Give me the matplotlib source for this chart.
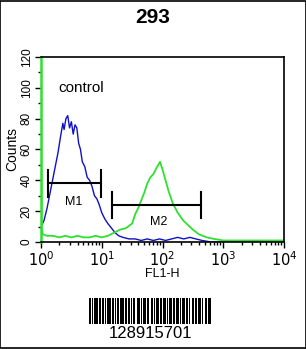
# Flow cytometry histogram, 293 cells, control vs antibody
import matplotlib
matplotlib.use("Agg")
import matplotlib.pyplot as plt
import numpy as np
from matplotlib.patches import Rectangle
from matplotlib.ticker import MultipleLocator, LogLocator, NullFormatter

plt.rcParams['font.family'] = ['Liberation Sans', 'DejaVu Sans']

title = "293"
x_label = "FL1-H"
y_label = "Counts"
legend_text = "control"

# log10 of FL1-H channel, counts (control, blue)
blue_exp = [0.0, 0.05, 0.1, 0.15, 0.2, 0.25, 0.28, 0.32, 0.36, 0.38, 0.41, 0.44, 0.47, 0.5, 0.53,
            0.56, 0.59, 0.62, 0.65, 0.68, 0.72, 0.76, 0.8, 0.84, 0.88, 0.92, 0.96, 1.0, 1.05, 1.1,
            1.16, 1.22, 1.28, 1.35, 1.45, 1.55, 1.65, 1.75, 1.85, 1.95, 2.05, 2.15, 2.25, 2.35, 2.45,
            2.55, 2.65, 2.8, 3.0, 3.5, 4.0]
blue_counts = [10, 14, 22, 32, 42, 52, 58, 68, 77, 73, 80, 82, 74, 78, 70,
               76, 74, 64, 60, 52, 49, 42, 40, 36, 30, 28, 24, 19, 15, 12,
               9, 6, 4, 3, 2, 2, 1, 2, 1, 2, 1, 2, 3, 2, 3,
               2, 1, 0, 0, 0, 0]

# log10 of FL1-H channel, counts (sample, green)
green_exp = [0.0, 0.01, 0.03, 0.1, 0.2, 0.3, 0.4, 0.5, 0.6, 0.7, 0.8, 0.9, 1.0, 1.1, 1.2,
             1.3, 1.4, 1.5, 1.55, 1.6, 1.65, 1.7, 1.75, 1.8, 1.85, 1.9, 1.93, 1.96, 2.0, 2.05,
             2.1, 2.17, 2.25, 2.34, 2.42, 2.5, 2.6, 2.73, 2.85, 3.0, 3.5, 4.0]
green_counts = [125, 10, 5, 4, 4, 3, 4, 3, 4, 3, 3, 4, 3, 4, 6,
                8, 9, 12, 18, 22, 27, 32, 38, 42, 44, 48, 50, 52, 47, 40,
                33, 25, 19, 14, 11, 8, 5, 3, 2, 1, 1, 1]

# gate markers
markers = ["M1", "M2"]
marker_start = [1.3, 14.7]
marker_end = [9.7, 425]
marker_level = [38, 24]
marker_text_x = [3.4, 85]
marker_text_y = [26, 13]

y_ticks = [0, 20, 40, 60, 80, 100, 120]
x_ticks = [1, 10, 100, 1000, 10000]
x_tick_labels = [r"$10^0$", r"$10^1$", r"$10^2$", r"$10^3$", r"$10^4$"]

barcode_text = "128915701"
barcode_widths = [2, 1, 1, 1, 3, 1, 2, 1, 2, 1, 1, 1, 3, 1, 2, 1, 1, 1, 2, 1, 3, 1, 2, 1, 2,
                  1, 1, 1, 2, 1, 3, 1, 1, 1, 3, 1, 2, 1, 2, 1, 1, 1, 3, 1, 2, 1, 2, 1, 1, 1,
                  3, 1, 2, 1, 2, 1, 1, 1, 3, 1, 2, 1, 1, 1, 2, 1, 2, 1, 3, 1, 1, 1, 2, 1, 3]

fig = plt.figure(figsize=(3.06, 3.49), dpi=100)
fig.patches.append(Rectangle((0.0015, 0.0015), 0.997, 0.997, transform=fig.transFigure,
                             fill=False, edgecolor="black", linewidth=1.2))

ax = fig.add_axes([41 / 306, 107 / 349, 243 / 306, 185 / 349])
ax.plot(np.power(10.0, blue_exp), blue_counts, color="#1010c8", linewidth=1.0)
ax.plot(np.power(10.0, green_exp), green_counts, color="#30e030", linewidth=1.3, clip_on=True)

for i in range(len(markers)):
    ax.plot([marker_start[i], marker_end[i]], [marker_level[i], marker_level[i]], color="black", linewidth=1.5)
    for xe in (marker_start[i], marker_end[i]):
        ax.plot([xe, xe], [marker_level[i] - 8.5, marker_level[i] + 8.5], color="black", linewidth=1.5)
    ax.text(marker_text_x[i], marker_text_y[i], markers[i], ha="center", va="center", fontsize=9)

ax.text(1.9, 100, legend_text, ha="left", va="center", fontsize=11)

ax.set_xscale("log")
ax.set_xlim(1, 10000)
ax.set_ylim(0, 120)
ax.set_xticks(x_ticks)
ax.set_xticklabels(x_tick_labels, fontsize=10.5)
ax.xaxis.set_minor_locator(LogLocator(base=10, subs=np.arange(2, 10)))
ax.xaxis.set_minor_formatter(NullFormatter())
ax.set_yticks(y_ticks)
ax.set_yticklabels([str(t) for t in y_ticks], fontsize=8.5, rotation=90, va="center")
ax.yaxis.set_minor_locator(MultipleLocator(10))
ax.tick_params(which="major", direction="out", length=4, width=1, pad=2)
ax.tick_params(which="minor", direction="out", length=2.5, width=1)
ax.set_xlabel(x_label, fontsize=9, labelpad=-1)
ax.set_ylabel(y_label, fontsize=10, labelpad=1)
for s in ax.spines.values():
    s.set_linewidth(1.2)
ax.spines["left"].set_color("#30e030")
ax.spines["left"].set_linewidth(1.8)

fig.text(0.5, 0.951, title, ha="center", va="center", fontsize=15, fontweight="bold")

# barcode
bx = fig.add_axes([89 / 306, 25 / 349, 122 / 306, 26 / 349])
pos = 0
for k, w in enumerate(barcode_widths):
    if k % 2 == 0:
        bx.bar(pos, 1, width=w, align="edge", color="black", linewidth=0)
    pos += w
bx.set_xlim(0, pos)
bx.set_ylim(0, 1)
bx.axis("off")
fig.text(150 / 306, 15 / 349, barcode_text, ha="center", va="center", fontsize=12)

fig.savefig("out.png", dpi=100)
